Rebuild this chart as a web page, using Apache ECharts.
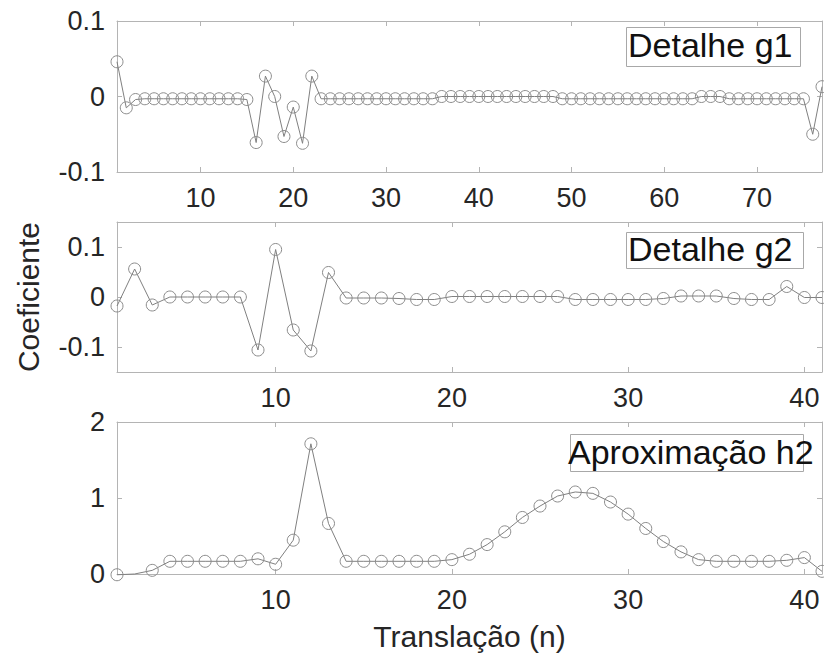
<!DOCTYPE html>
<html>
<head>
<meta charset="utf-8">
<script src="https://cdn.jsdelivr.net/npm/echarts@6/dist/echarts.min.js"></script>
<style>html,body{margin:0;padding:0;background:#fff}#c{width:824px;height:653px}</style>
</head>
<body>
<div id="c"></div>
<script>
// ---- data ----
const g1Values = [0.046, -0.015, -0.004, -0.003, -0.003, -0.003, -0.003, -0.003, -0.003, -0.003, -0.003, -0.003, -0.003, -0.003, -0.004,
  -0.061, 0.027, 0.000, -0.053, -0.014, -0.062, 0.027,
  -0.003, -0.003, -0.003, -0.003, -0.003, -0.003, -0.003, -0.003, -0.003, -0.003, -0.003, -0.003, -0.003,
  0.000, 0.000, 0.000, 0.000, 0.000, 0.000, 0.000, 0.000, 0.000, 0.000, 0.000, 0.000, 0.000,
  -0.003, -0.003, -0.003, -0.003, -0.003, -0.003, -0.003, -0.003, -0.003, -0.003, -0.003, -0.003, -0.003, -0.003, -0.003,
  0.000, 0.000, 0.000,
  -0.003, -0.003, -0.003, -0.003, -0.003, -0.003, -0.003, -0.003, -0.003,
  -0.050, 0.013];
const g2Values = [-0.018, 0.056, -0.016, 0.000, 0.000, 0.000, 0.000, 0.000, -0.106, 0.095, -0.066, -0.108, 0.049,
  -0.002, -0.002, -0.002, -0.003, -0.005, -0.005,
  0.001, 0.001, 0.001, 0.001, 0.001, 0.001, 0.001,
  -0.005, -0.005, -0.005, -0.005, -0.005, -0.003,
  0.002, 0.002, 0.002, -0.003, -0.005, -0.005, 0.021, -0.001, -0.001];
const h2Values = [-0.01, 0.0, 0.048, 0.167, 0.167, 0.167, 0.167, 0.167, 0.2, 0.128, 0.445, 1.713, 0.665,
  0.167, 0.167, 0.167, 0.167, 0.167, 0.167,
  0.189, 0.26, 0.387, 0.555, 0.744, 0.894, 1.026, 1.079, 1.061, 0.947, 0.788, 0.599, 0.427, 0.291, 0.189,
  0.167, 0.167, 0.167, 0.167, 0.18, 0.216, 0.035];
const seriesNames = ['Detalhe g1', 'Detalhe g2', 'Aproximação h2'];
const xTicksTop = [10, 20, 30, 40, 50, 60, 70];
const xTicksLower = [10, 20, 30, 40];
const yTicksDetail = [-0.1, 0, 0.1];
const yTicksApprox = [0, 1, 2];
const yLabelName = 'Coeficiente';
const xLabelName = 'Translação (n)';

// ---- styling ----
const FONT = '"Liberation Sans", Arial, sans-serif';
const axisGray = '#b4b4b4';
const textCol = '#262626';
const grids = [
  {left: 117, top: 21, width: 705, height: 151},
  {left: 117, top: 222, width: 705, height: 150},
  {left: 117, top: 422, width: 705, height: 152}
];
const xRanges = [[1, 77], [1, 41], [1, 41]];
const yRanges = [[-0.1, 0.1], [-0.15, 0.15], [0, 2]];
const xTickSets = [xTicksTop, xTicksLower, xTicksLower];
const yTickSets = [yTicksDetail, yTicksDetail, yTicksApprox];
const dataSets = [g1Values, g2Values, h2Values];

const xAxes = [], yAxes = [], series = [], legends = [];
for (let g = 0; g < 3; g++) {
  ['bottom', 'top'].forEach((pos, k) => {
    xAxes.push({
      type: 'value', gridIndex: g, position: pos, min: xRanges[g][0], max: xRanges[g][1],
      axisLine: {show: true, onZero: false, lineStyle: {color: axisGray, width: 1}},
      axisTick: {show: true, inside: true, length: 5, customValues: xTickSets[g], lineStyle: {color: axisGray}},
      axisLabel: {show: k === 0, customValues: xTickSets[g], margin: 12, fontFamily: FONT, fontSize: 27, color: textCol},
      splitLine: {show: false},
      name: (g === 2 && k === 0) ? xLabelName : '',
      nameLocation: 'middle', nameGap: 47,
      nameTextStyle: {fontFamily: FONT, fontSize: 30, color: textCol}
    });
  });
  ['left', 'right'].forEach((pos, k) => {
    yAxes.push({
      type: 'value', gridIndex: g, position: pos, min: yRanges[g][0], max: yRanges[g][1],
      axisLine: {show: true, onZero: false, lineStyle: {color: axisGray, width: 1}},
      axisTick: {show: true, inside: true, length: 5, customValues: yTickSets[g], lineStyle: {color: axisGray}},
      axisLabel: {show: k === 0, customValues: yTickSets[g], margin: 12, fontFamily: FONT, fontSize: 27, color: textCol},
      splitLine: {show: false},
      name: (g === 1 && k === 0) ? yLabelName : '',
      nameLocation: 'middle', nameGap: 74,
      nameTextStyle: {fontFamily: FONT, fontSize: 30, color: textCol}
    });
  });
  series.push({
    name: seriesNames[g], type: 'line', xAxisIndex: g * 2, yAxisIndex: g * 2,
    data: dataSets[g].map((v, i) => {
      const item = {value: [i + 1, v]};
      if (g === 2 && i === 1) item.symbol = 'none';
      return item;
    }),
    symbol: 'circle', symbolSize: 12, clip: false, animation: false,
    lineStyle: {color: '#808080', width: 1},
    itemStyle: {color: 'rgba(0,0,0,0)', borderColor: '#8c8c8c', borderWidth: 1}
  });
}
const legendPos = [
  {left: 623, top: 28},
  {left: 623, top: 232},
  {left: 563, top: 435}
];
for (let g = 0; g < 3; g++) {
  legends.push({
    data: [seriesNames[g]], left: legendPos[g].left, top: legendPos[g].top,
    icon: 'none', itemWidth: 0, itemHeight: 0, padding: 0, selectedMode: false,
    textStyle: {fontFamily: FONT, fontSize: 34, color: '#111'}
  });
}
const boxes = [
  {x: 626, y: 27, w: 174, h: 39},
  {x: 626, y: 232, w: 177, h: 36},
  {x: 570, y: 434, w: 233, h: 37}
];
const chart = echarts.init(document.getElementById('c'), null, {renderer: 'svg'});
chart.setOption({
  animation: false,
  backgroundColor: '#fff',
  grid: grids,
  xAxis: xAxes,
  yAxis: yAxes,
  legend: legends,
  graphic: boxes.map(b => ({
    type: 'rect', shape: {x: b.x + 0.5, y: b.y + 0.5, width: b.w, height: b.h}, z: 0,
    style: {fill: '#fff', stroke: '#a8a8a8', lineWidth: 1}
  })),
  series: series
});
</script>
</body>
</html>
